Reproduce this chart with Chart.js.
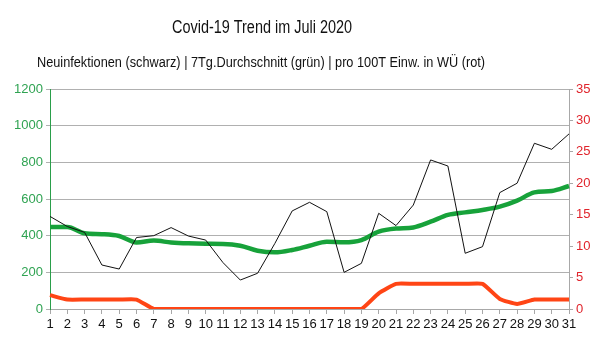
<!DOCTYPE html>
<html>
<head>
<meta charset="utf-8">
<script src="https://cdn.jsdelivr.net/npm/chart.js@4.4.1/dist/chart.umd.min.js"></script>
<style>
html,body{margin:0;padding:0;background:#fff;}
#wrap{width:605px;height:340px;position:relative;}
</style>
</head>
<body>
<div id="wrap"><canvas id="c" width="605" height="340"></canvas></div>
<script>
const days = Array.from({length:31},(_,i)=>String(i+1));
const neuinfektionen = [505,450,418,240,218,390,400,444,398,376,253,158,195,358,535,582,531,200,249,522,455,567,813,780,304,340,635,686,904,871,955];
const durchschnitt7 = [447,447,413,408,398,363,373,363,358,356,355,345,318,309,322,345,367,364,376,422,439,445,476,513,527,540,558,591,636,644,671];
const pro100T = [2.2,1.5,1.5,1.5,1.5,1.5,0,0,0,0,0,0,0,0,0,0,0,0,0,2.5,4,4,4,4,4,4,1.6,0.8,1.5,1.5,1.5];
const leftTicks = [0,200,400,600,800,1000,1200];
const rightTicks = [0,5,10,15,20,25,30,35];
const titleText = 'Covid-19 Trend im Juli 2020';
const subtitleText = 'Neuinfektionen (schwarz) | 7Tg.Durchschnitt (grün) | pro 100T Einw. in WÜ (rot)';

const FONT = "'Liberation Sans', Arial, sans-serif";

// Titles drawn as real canvas text in a narrow (horizontally condensed) face, like the reference
const titlesPlugin = {
  id: 'condensedTitles',
  afterDraw(chart) {
    const ctx = chart.ctx;
    const lines = [
      {text: titleText, size: 17.5, width: 180, cx: 262, baseline: 33},
      {text: subtitleText, size: 15.5, width: 448, cx: 261, baseline: 66.5}
    ];
    ctx.save();
    ctx.fillStyle = '#111';
    ctx.textAlign = 'center';
    ctx.textBaseline = 'alphabetic';
    for (const l of lines) {
      ctx.font = l.size + 'px ' + FONT;
      const sx = l.width / ctx.measureText(l.text).width;
      ctx.save();
      ctx.translate(l.cx, l.baseline);
      ctx.scale(sx, 1);
      ctx.fillText(l.text, 0, 0);
      ctx.restore();
    }
    ctx.restore();
  }
};

new Chart(document.getElementById('c'), {
  type: 'line',
  data: {
    labels: days,
    datasets: [
      {label:'Neuinfektionen', data: neuinfektionen, borderColor:'#111', borderWidth:1, pointRadius:0, tension:0, yAxisID:'y', order:0},
      {label:'7Tg.Durchschnitt', data: durchschnitt7, borderColor:'#17a23a', borderWidth:4.5, pointRadius:0, cubicInterpolationMode:'monotone', yAxisID:'y', order:1},
      {label:'pro 100T Einw.', data: pro100T, borderColor:'#ff4515', borderWidth:4, pointRadius:0, tension:0.15, yAxisID:'y1', order:2}
    ]
  },
  plugins: [titlesPlugin],
  options: {
    responsive:false,
    animation:false,
    layout:{padding:{left:0,right:0,top:89,bottom:0}},
    plugins:{
      legend:{display:false},
      tooltip:{enabled:false},
      title:{display:false},
      subtitle:{display:false}
    },
    scales:{
      x:{
        type:'category', offset:false,
        grid:{display:true, drawOnChartArea:false, drawTicks:true, tickLength:5, color:'#a8a8a8'},
        border:{display:true, color:'#a8a8a8'},
        ticks:{color:'#111', font:{family:FONT, size:13}, padding:3, maxRotation:0, autoSkip:false},
        afterFit:(s)=>{s.height=31;}
      },
      y:{
        position:'left', min:0, max:1200,
        afterBuildTicks:(s)=>{s.ticks = leftTicks.map(v=>({value:v}));},
        grid:{color:'#b0b0b0', tickLength:4},
        border:{display:true, color:'#2a9e4a'},
        ticks:{color:'#2fa352', font:{family:FONT, size:13}, padding:3, callback:(v)=>String(v)},
        afterFit:(s)=>{s.width=50;}
      },
      y1:{
        position:'right', min:0, max:35,
        afterBuildTicks:(s)=>{s.ticks = rightTicks.map(v=>({value:v}));},
        grid:{drawOnChartArea:false, color:'#a8a8a8', tickLength:4},
        border:{display:true, color:'#a8a8a8'},
        ticks:{color:'#e0242c', font:{family:FONT, size:13}, padding:3, callback:(v)=>String(v)},
        afterFit:(s)=>{s.width=36;}
      }
    }
  }
});
</script>
</body>
</html>
